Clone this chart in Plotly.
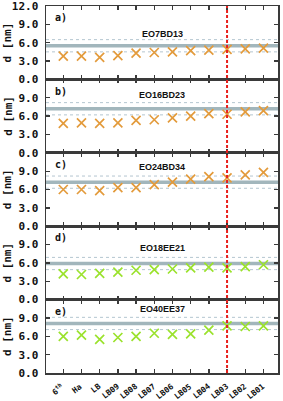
import plotly.graph_objects as go
from plotly.subplots import make_subplots

categories = ["6<sup>th</sup>", "Ha", "LB", "LB09", "LB08", "LB07", "LB06", "LB05", "LB04", "LB03", "LB02", "LB01"]
panel_labels = ["a)", "b)", "c)", "d)", "e)"]
panel_titles = ["EO7BD13", "EO16BD23", "EO24BD34", "EO18EE21", "EO40EE37"]
title_y = [7.5, 9.4, 9.6, 8.5, 10.4]

series_a = [3.8, 3.8, 3.6, 3.9, 4.3, 4.4, 4.5, 4.7, 4.8, 4.9, 5.0, 5.1]
series_b = [4.8, 4.9, 4.8, 4.9, 5.3, 5.4, 5.7, 6.0, 6.4, 6.3, 6.7, 6.9]
series_c = [6.0, 6.0, 5.8, 6.3, 6.3, 6.8, 7.2, 7.7, 8.1, 7.9, 8.4, 8.8]
series_d = [4.2, 4.1, 4.3, 4.5, 4.8, 4.9, 5.0, 5.2, 5.3, 5.2, 5.4, 5.7]
series_e = [6.0, 6.2, 5.5, 5.8, 6.0, 6.5, 6.3, 6.4, 7.0, 7.7, 7.6, 7.7]
all_series = [series_a, series_b, series_c, series_d, series_e]

mean_lines = [5.5, 7.2, 7.2, 5.9, 8.1]
band_half = [1.0, 1.0, 1.0, 1.0, 1.0]
red_line_cat = "LB03"

ORANGE = "#e39b3c"
LIME = "#9be22d"
colors = [ORANGE, ORANGE, ORANGE, LIME, LIME]
AX = "#3a3a3a"
TXT = "#111111"
MONO = "DejaVu Sans Mono"

fig = make_subplots(rows=5, cols=1, shared_xaxes=True, vertical_spacing=0)

xi = list(range(len(categories)))
for i, s in enumerate(all_series):
    r = i + 1
    fig.add_trace(go.Scatter(x=xi, y=s, mode="markers",
                             marker=dict(symbol="x-thin", size=9, line=dict(width=1.7, color=colors[i])),
                             showlegend=False, hoverinfo="skip"), row=r, col=1)
    xd = "x domain" if r == 1 else f"x{r} domain"
    yr = "y" if r == 1 else f"y{r}"
    m = mean_lines[i]
    for yv, dash, w, c in [(m + band_half[i], "dot", 1, "#b4c6d0"), (m - band_half[i], "dot", 1, "#b4c6d0"),
                           (m, "solid", 3.5, "#a2b6bc")]:
        fig.add_shape(type="line", xref=xd, yref=yr, x0=0, x1=1, y0=yv, y1=yv,
                      line=dict(color=c, width=w, dash=dash), layer="below")
    fig.add_annotation(xref=xd, yref=yr, x=0.03, y=12 - 1.9, text="<b>" + panel_labels[i] + "</b>",
                       showarrow=False, xanchor="left", yanchor="middle",
                       font=dict(family=MONO, size=10, color=TXT))
    fig.add_annotation(xref=xd, yref=yr, x=0.5, y=title_y[i], text="<b>" + panel_titles[i] + "</b>",
                       showarrow=False, xanchor="center", yanchor="middle",
                       font=dict(family="Liberation Sans", size=9, color=TXT))
    fig.add_annotation(xref="paper", yref=(yr + " domain"), x=-0.165, y=0.5, text="<b>d [nm]</b>",
                       textangle=-90, showarrow=False, xanchor="center", yanchor="middle",
                       font=dict(family=MONO, size=11, color=TXT))
    tv = [0, 3, 6, 9, 12] if r == 1 else [0, 3, 6, 9]
    fig.update_yaxes(range=[0, 12], tickvals=tv, ticktext=[f"<b>{v:.1f}</b>" for v in tv],
                     ticks="inside", ticklen=4, tickwidth=1.3, tickcolor=AX,
                     showline=True, linecolor=AX, linewidth=1.5, mirror="ticks",
                     showgrid=False, zeroline=False, ticklabelstandoff=4, automargin=False,
                     ticklabeloverflow="allow",
                     tickfont=dict(family=MONO, size=11, color=TXT), row=r, col=1)
    fig.update_xaxes(range=[-0.95, 11.8], tickvals=xi,
                     ticks="inside", ticklen=4, tickwidth=1.3, tickcolor=AX,
                     showline=True, linecolor=AX, linewidth=1.5, mirror="ticks",
                     showgrid=False, zeroline=False, showticklabels=False, automargin=False,
                     row=r, col=1)

# category labels under the bottom panel
for j, lab in enumerate(categories):
    fig.add_annotation(xref="x5", yref="paper", x=j + 0.22, y=-0.02, text="<b>" + lab + "</b>",
                       textangle=-38, showarrow=False, xanchor="right", yanchor="top", borderpad=0,
                       font=dict(family=MONO, size=8, color=TXT))

rx = categories.index(red_line_cat)
fig.add_shape(type="line", xref="x5", yref="paper", x0=rx, x1=rx, y0=0, y1=1,
              line=dict(color="#e8201c", width=2, dash="3px,2px"), layer="above")

fig.update_layout(width=283, height=401, margin=dict(l=46, r=5, t=6, b=28, autoexpand=False),
                  paper_bgcolor="white", plot_bgcolor="white", showlegend=False)

fig.write_html("out.html", config={"displayModeBar": False, "staticPlot": True})

# remove the browser's default page margin so the figure sits at the window origin
with open("out.html", "r", encoding="utf-8") as f:
    html = f.read()
html = html.replace("<head>", "<head><style>html,body{margin:0;padding:0;overflow:hidden;}</style>", 1)
with open("out.html", "w", encoding="utf-8") as f:
    f.write(html)
